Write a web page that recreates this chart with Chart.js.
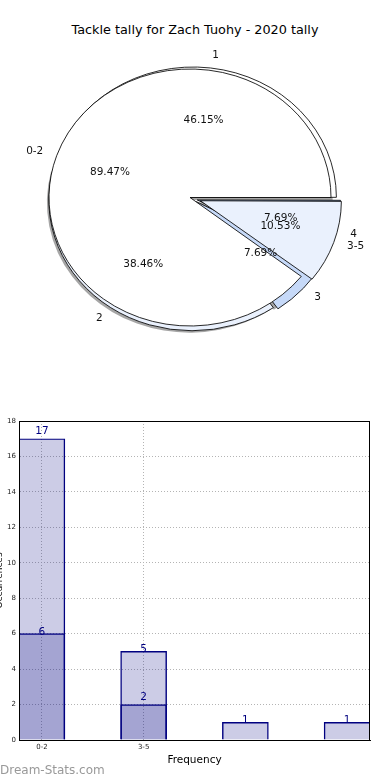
<!DOCTYPE html>
<html><head><meta charset="utf-8">
<script src="https://cdn.jsdelivr.net/npm/chart.js@4.4.1/dist/chart.umd.min.js"></script>
<style>
body{margin:0;background:#fff;width:390px;height:780px;overflow:hidden;position:relative;font-family:'DejaVu Sans',sans-serif}
#title{position:absolute;top:21px;left:0;width:390px;text-align:center;font-size:12.8px;color:#000;line-height:18px;white-space:nowrap}
canvas{position:absolute}
#pieBack,#pieFront{left:0;top:0}
#bars{left:-10px;top:400px}
#wm{position:absolute;left:0;top:762px;font-size:12px;color:#999;line-height:16px;white-space:nowrap}
</style></head><body>
<div id="title">Tackle tally for Zach Tuohy - 2020 tally</div>
<canvas id="pieBack" width="390" height="400"></canvas>
<canvas id="pieFront" width="390" height="400"></canvas>
<canvas id="bars" width="400" height="380"></canvas>
<div id="wm">Dream-Stats.com</div>
<script>
// ---- data ----
const groupLabels = ['0-2', '3-5'];
const groupCounts = [17, 2];
const tallyLabels = ['1', '2', '3', '4'];
const tallyCounts = [6, 5, 1, 1];

// ---- styles ----
const groupColors = ['#ffffff', '#eaf1fd'];
const groupExplode = [0, 10];
const tallyColors = ['#ffffff', '#eaf1fd', '#c6d9f8', '#a9c4f0'];
const tallyExplode = [1.5, 1.5, 4, 4];
const SX = 141 / 128.5;

function ellipseTransform(ctx, cx, cy) {
  ctx.translate(cx, cy); ctx.scale(SX, 1); ctx.translate(-cx, -cy);
}
const fixOffsets = {
  id: 'fixOffsets',
  afterDatasetUpdate(chart, args) {
    args.meta.data.forEach(el => {
      const off = (el.options.offset || 0) / 4;
      const fix = 1 - Math.sin(Math.min(Math.PI, el.circumference));
      el.outerRadius -= off * fix;
    });
  }
};
const ellipsePlugin = {
  id: 'ellipsePie',
  beforeDatasetsDraw(chart, args, opts) {
    const ctx = chart.ctx;
    const meta = chart.getDatasetMeta(0);
    const el0 = meta.data[0];
    ctx.save();
    ellipseTransform(ctx, el0.x, el0.y);
    if (opts.shadow) {
      ctx.save();
      ctx.fillStyle = 'rgba(77,77,77,0.5)';
      meta.data.forEach(el => {
        const off = (el.options.offset || 0) / 4;
        const mid = (el.startAngle + el.endAngle) / 2;
        const x = el.x + Math.cos(mid) * off - 2.5 / SX;
        const y = el.y + Math.sin(mid) * off + 2.5;
        ctx.beginPath();
        ctx.moveTo(x, y);
        ctx.arc(x, y, el.outerRadius, el.startAngle, el.endAngle);
        ctx.closePath();
        ctx.fill();
      });
      ctx.restore();
    }
  },
  afterDatasetsDraw(chart) { chart.ctx.restore(); }
};

function pieConfig(labels, values, colors, explode, radius, padding, shadow) {
  const rev = a => a.slice().reverse();
  return {
    type: 'pie',
    data: {
      labels: rev(labels),
      datasets: [{
        data: rev(values),
        backgroundColor: rev(colors),
        offset: rev(explode).map(v => v * 4),
        borderColor: '#000',
        borderWidth: 0.8,
        borderJoinStyle: 'miter'
      }]
    },
    options: {
      responsive: false, animation: false, events: [],
      rotation: 90,
      radius: radius,
      layout: { padding: padding },
      plugins: { legend: { display: false }, tooltip: { enabled: false }, ellipsePie: { shadow: shadow } }
    },
    plugins: [fixOffsets, ellipsePlugin]
  };
}

const backChart = new Chart(document.getElementById('pieBack'),
  pieConfig(tallyLabels, tallyCounts, tallyColors, tallyExplode, 130.5, { left: 0, right: 4, top: 0, bottom: 2 }, true));

function drawPieLabels(ctx, chart) {
  const meta = chart.getDatasetMeta(0);
  const ds = chart.data.datasets[0];
  const total = ds.data.reduce((a, b) => a + b, 0);
  const R = chart.options.radius;
  meta.data.forEach((el, i) => {
    const off = (el.options.offset || 0) / 4;
    const mid = (el.startAngle + el.endAngle) / 2;
    const c = Math.cos(mid), s = Math.sin(mid);
    const pos = k => ({ x: el.x + SX * c * (k * R + off), y: el.y + s * (k * R + off) });
    const p1 = pos(1.1);
    ctx.textAlign = c >= 0 ? 'left' : 'right';
    ctx.fillText(chart.data.labels[i], p1.x, p1.y);
    const p2 = pos(0.6);
    ctx.textAlign = 'center';
    ctx.fillText((ds.data[i] / total * 100).toFixed(2) + '%', p2.x, p2.y);
  });
}
const pieText = {
  id: 'pieText',
  afterDraw(chart) {
    const ctx = chart.ctx;
    ctx.save();
    ctx.font = '10.5px "DejaVu Sans"';
    ctx.fillStyle = '#111';
    ctx.textBaseline = 'middle';
    drawPieLabels(ctx, backChart);
    drawPieLabels(ctx, chart);
    ctx.restore();
  }
};
const frontCfg = pieConfig(groupLabels, groupCounts, groupColors, groupExplode, 128.5, { left: 0, right: 10, top: 0, bottom: 5 }, false);
frontCfg.plugins.push(pieText);
new Chart(document.getElementById('pieFront'), frontCfg);

// ---- bar chart ----
const barFill = 'rgba(0,0,128,0.2)';
const labelLift = [5, -1];
const barText = {
  id: 'barText',
  afterDatasetsDraw(chart) {
    const ctx = chart.ctx, a = chart.chartArea;
    ctx.save();
    ctx.strokeStyle = '#000'; ctx.lineWidth = 1;
    ctx.strokeRect(Math.round(a.left) + 0.5, Math.round(a.top) + 0.5, Math.round(a.right - a.left) - 1, Math.round(a.bottom - a.top));
    ctx.font = '10.5px "DejaVu Sans"';
    ctx.fillStyle = '#000080';
    ctx.textAlign = 'center';
    ctx.textBaseline = 'alphabetic';
    chart.data.datasets.forEach((ds, di) => {
      chart.getDatasetMeta(di).data.forEach((el, i) => {
        ctx.fillText(String(ds.data[i].y), el.x, el.y - labelLift[di]);
      });
    });
    ctx.restore();
  }
};
new Chart(document.getElementById('bars'), {
  type: 'bar',
  data: {
    datasets: [
      { data: groupCounts.map((v, i) => ({ x: i, y: v })), backgroundColor: barFill, borderColor: '#000080', borderWidth: 0.8, grouped: false, barThickness: 46 },
      { data: tallyCounts.map((v, i) => ({ x: i, y: v })), backgroundColor: barFill, borderColor: '#000080', borderWidth: 0.8, grouped: false, barThickness: 46 }
    ]
  },
  options: {
    responsive: false, animation: false, events: [],
    layout: { padding: { left: 0, right: 20, top: 21, bottom: 9 } },
    plugins: { legend: { display: false }, tooltip: { enabled: false } },
    scales: {
      x: {
        type: 'linear', min: -0.225, max: 3.225, offset: false,
        afterBuildTicks(s) { s.ticks = groupLabels.map((_, i) => ({ value: i })); },
        afterFit(s) { s.height = 31; },
        ticks: { callback: v => groupLabels[Math.round(v)] ?? '', font: { family: 'DejaVu Sans', size: 7 }, color: '#222', padding: 3, maxRotation: 0, autoSkip: false },
        grid: { color: '#b4b4b4', drawTicks: false, lineWidth: 1, offset: false },
        border: { color: '#000', dash: [1, 2] },
        title: { display: true, text: 'Frequency', font: { family: 'DejaVu Sans', size: 10.5 }, color: '#000', padding: { top: 2, bottom: 4 } }
      },
      y: {
        min: 0, max: 18,
        afterFit(s) { s.width = 29; },
        ticks: { stepSize: 2, font: { family: 'DejaVu Sans', size: 7 }, color: '#222', padding: 3 },
        grid: { color: '#b4b4b4', drawTicks: false, lineWidth: 1 },
        border: { color: '#000', dash: [1, 2] },
        title: { display: true, text: 'Occurrences', font: { family: 'DejaVu Sans', size: 9 }, color: '#000', padding: { top: 4, bottom: 4 } }
      }
    }
  },
  plugins: [barText]
});
</script>
</body></html>
